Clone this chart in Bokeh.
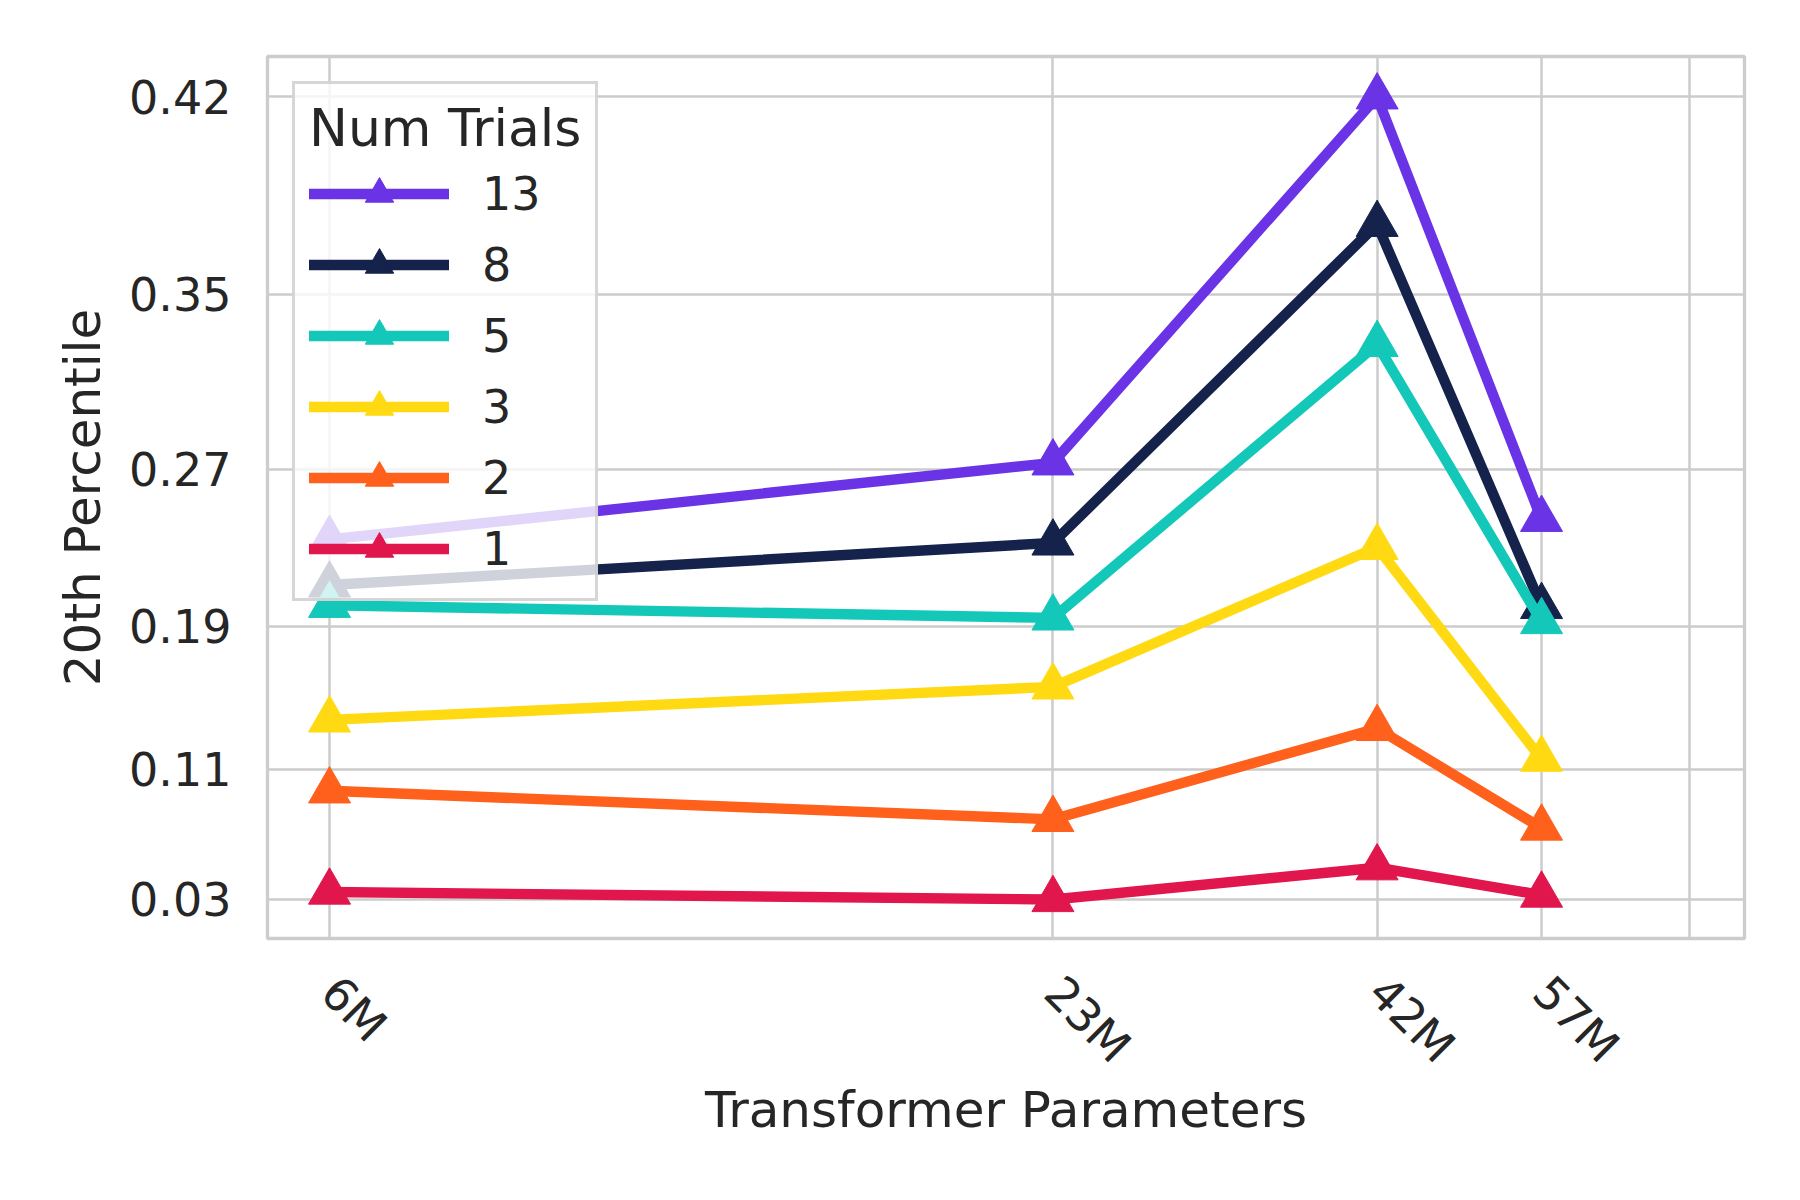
import numpy as np
from math import pi
from bokeh.plotting import figure
from bokeh.models import Range1d, FixedTicker, CustomJSTickFormatter
from bokeh.embed import file_html
from bokeh.resources import INLINE

# ---------------- data ----------------
params_m = [6, 23, 42, 57]                       # transformer parameters (millions)
x_tick_values = [6, 23, 42, 57, 75]
x_tick_labels = ["6M", "23M", "42M", "57M", ""]

trials = ["13", "8", "5", "3", "2", "1"]        # legend entries (num trials)
colors = ["#6A33E6", "#14224C", "#14C8B9", "#FFDA12", "#FF601B", "#E0164D"]

p20_13 = [0.2327, 0.2699, 0.4244, 0.2426]
p20_8 = [0.2096, 0.2309, 0.3747, 0.1985]
p20_5 = [0.1991, 0.1925, 0.3240, 0.1906]
p20_3 = [0.1372, 0.1555, 0.2287, 0.1149]
p20_2 = [0.0965, 0.0796, 0.1324, 0.0744]
p20_1 = [0.0351, 0.0304, 0.0502, 0.0332]
series = [p20_13, p20_8, p20_5, p20_3, p20_2, p20_1]

# y ticks: evenly spaced between data min and max
all_vals = np.concatenate([np.array(s) for s in series])
y_ticks = np.linspace(all_vals.min(), all_vals.max(), 6)
y_tick_labels = [f"{v:.2f}" for v in y_ticks]

# axis limits (value space)
X_MIN, X_MAX = 5.347, 83.1
Y_BOTTOM, Y_TOP = 0.00551, 0.43929

TEXT = "#262626"
FONT = "DejaVu Sans"
GRID = "#cccccc"

# y axis is a log scale of (1 - value), flipped so larger values are higher
p = figure(width=1784, height=1184, output_backend="svg", toolbar_location=None,
           x_axis_type="log", y_axis_type="log",
           x_range=Range1d(X_MIN, X_MAX),
           y_range=Range1d(1 - Y_BOTTOM, 1 - Y_TOP),
           min_border_left=267, min_border_right=40,
           min_border_top=56, min_border_bottom=246)
p.background_fill_color = "white"
p.border_fill_color = "white"
p.outline_line_color = GRID
p.outline_line_width = 3.3

for lbl, col, vals in zip(trials, colors, series):
    yv = [1 - v for v in vals]
    p.line(params_m, yv, line_color=col, line_width=10.4, line_cap="round",
           line_join="round", legend_label=lbl)
    p.scatter(params_m, yv, marker="triangle", size=42, fill_color=col,
              line_color=col, line_width=1, legend_label=lbl)

# x axis
p.xaxis.ticker = FixedTicker(ticks=x_tick_values, minor_ticks=[])
p.xaxis.major_label_overrides = {v: l for v, l in zip(x_tick_values, x_tick_labels)}
p.xaxis.major_label_orientation = -pi / 4
p.xaxis.major_label_standoff = 46
p.xaxis.axis_label = "Transformer Parameters"
p.xaxis.axis_label_standoff = -14

# y axis
y_tick_pos = [float(1 - v) for v in y_ticks]
p.yaxis.ticker = FixedTicker(ticks=y_tick_pos, minor_ticks=[])
p.yaxis.formatter = CustomJSTickFormatter(
    args=dict(tpos=y_tick_pos, tlab=y_tick_labels),
    code="""
    let best = 0;
    for (let i = 0; i < tpos.length; i++) {
        if (Math.abs(tpos[i] - tick) < Math.abs(tpos[best] - tick)) best = i;
    }
    return tlab[best];
    """)
p.yaxis.major_label_standoff = 36
p.yaxis.axis_label = "20th Percentile"
p.yaxis.axis_label_standoff = 14

for ax in (p.xaxis[0], p.yaxis[0]):
    ax.axis_line_color = None
    ax.major_tick_line_color = None
    ax.minor_tick_line_color = None
    ax.major_tick_out = 0
    ax.major_tick_in = 0
    ax.major_label_text_font = FONT
    ax.major_label_text_font_size = "46px"
    ax.major_label_text_color = TEXT
    ax.axis_label_text_font = FONT
    ax.axis_label_text_font_size = "50px"
    ax.axis_label_text_font_style = "normal"
    ax.axis_label_text_color = TEXT

p.xgrid.grid_line_color = GRID
p.xgrid.grid_line_width = 2.5
p.ygrid.grid_line_color = GRID
p.ygrid.grid_line_width = 2.5

# legend
lg = p.legend[0]
lg.title = "Num Trials"
lg.location = "top_left"
lg.margin = 25
lg.padding = 14
lg.spacing = 0
lg.glyph_width = 140
lg.glyph_height = 71
lg.label_height = 71
lg.label_standoff = 33
lg.title_standoff = 0
lg.label_text_font = FONT
lg.label_text_font_size = "46px"
lg.label_text_color = TEXT
lg.title_text_font = FONT
lg.title_text_font_size = "52px"
lg.title_text_font_style = "normal"
lg.title_text_color = TEXT
lg.border_line_color = GRID
lg.border_line_width = 3
lg.border_line_alpha = 0.8
lg.background_fill_color = "white"
lg.background_fill_alpha = 0.8

open("out.html", "w").write(file_html(p, INLINE))
